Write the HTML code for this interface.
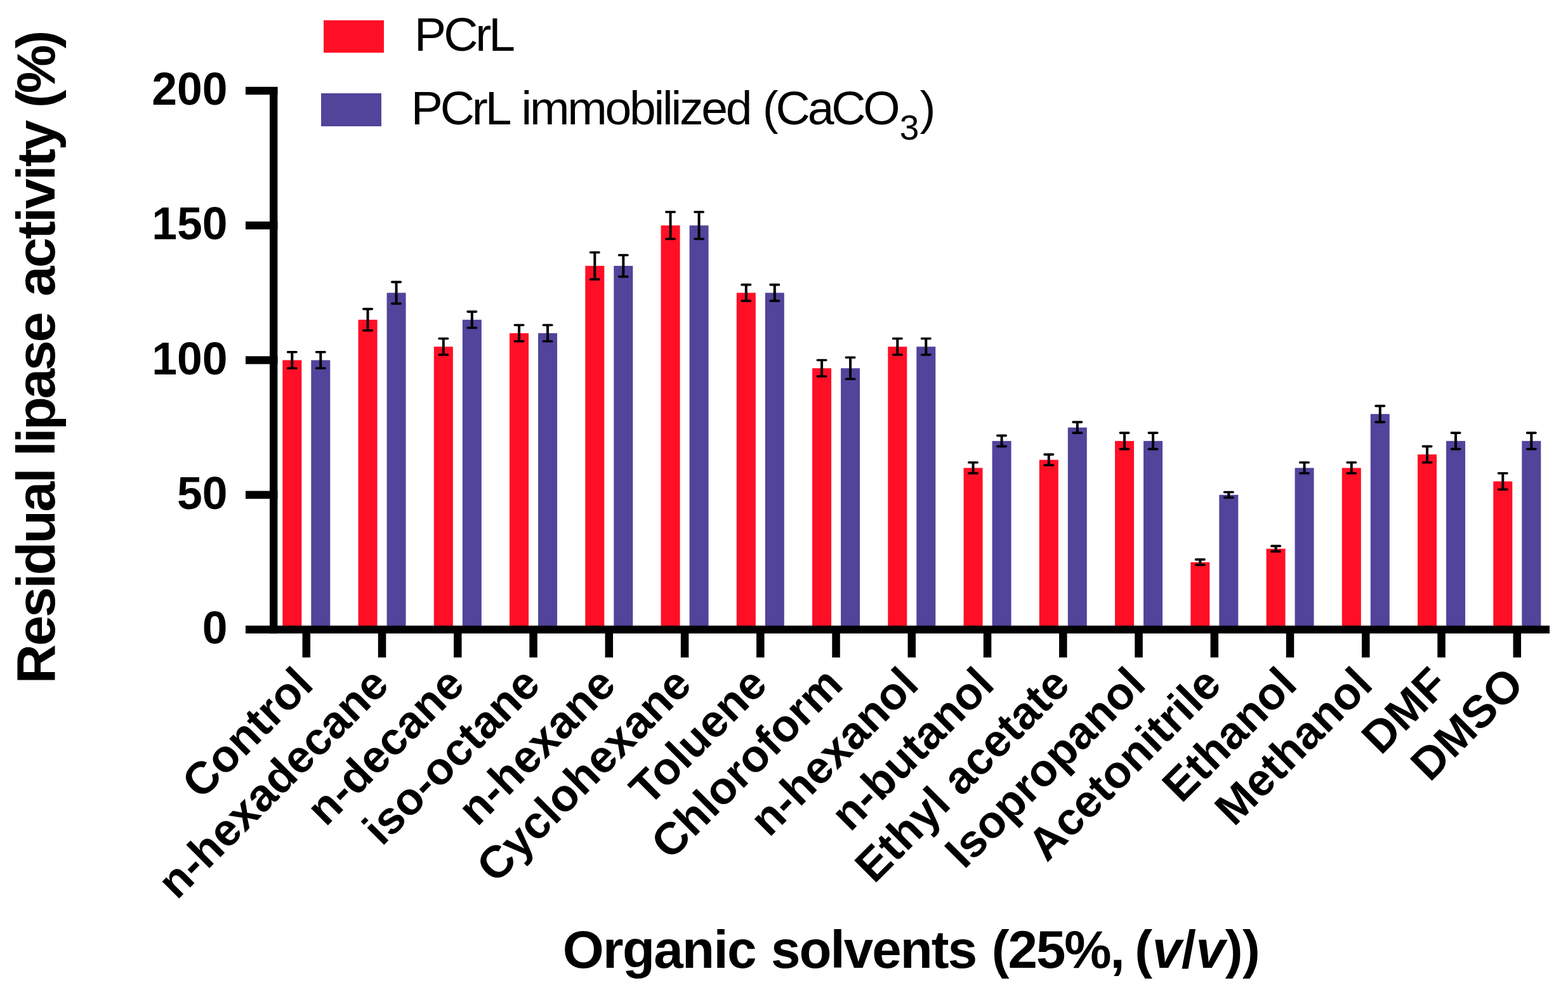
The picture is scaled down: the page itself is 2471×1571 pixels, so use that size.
<!DOCTYPE html>
<html><head><meta charset="utf-8"><style>html,body{margin:0;padding:0;background:#fff;overflow:hidden}svg{display:block}text{font-family:"Liberation Sans",Arial,sans-serif}</style></head><body>
<svg width="2471" height="1571" viewBox="0 0 2471 1571">
<rect width="2471" height="1571" fill="#fff"/>
<rect x="445.30" y="567.50" width="30" height="424.50" fill="#ff0f26"/>
<rect x="490.30" y="567.50" width="30" height="424.50" fill="#52439b"/>
<rect x="564.55" y="503.82" width="30" height="488.18" fill="#ff0f26"/>
<rect x="609.55" y="461.38" width="30" height="530.62" fill="#52439b"/>
<rect x="683.80" y="546.27" width="30" height="445.73" fill="#ff0f26"/>
<rect x="728.80" y="503.82" width="30" height="488.18" fill="#52439b"/>
<rect x="803.05" y="525.05" width="30" height="466.95" fill="#ff0f26"/>
<rect x="848.05" y="525.05" width="30" height="466.95" fill="#52439b"/>
<rect x="922.30" y="418.92" width="30" height="573.08" fill="#ff0f26"/>
<rect x="967.30" y="418.92" width="30" height="573.08" fill="#52439b"/>
<rect x="1041.55" y="355.25" width="30" height="636.75" fill="#ff0f26"/>
<rect x="1086.55" y="355.25" width="30" height="636.75" fill="#52439b"/>
<rect x="1160.80" y="461.38" width="30" height="530.62" fill="#ff0f26"/>
<rect x="1205.80" y="461.38" width="30" height="530.62" fill="#52439b"/>
<rect x="1280.05" y="580.24" width="30" height="411.76" fill="#ff0f26"/>
<rect x="1325.05" y="580.24" width="30" height="411.76" fill="#52439b"/>
<rect x="1399.30" y="546.27" width="30" height="445.73" fill="#ff0f26"/>
<rect x="1444.30" y="546.27" width="30" height="445.73" fill="#52439b"/>
<rect x="1518.55" y="737.30" width="30" height="254.70" fill="#ff0f26"/>
<rect x="1563.55" y="694.85" width="30" height="297.15" fill="#52439b"/>
<rect x="1637.80" y="724.57" width="30" height="267.43" fill="#ff0f26"/>
<rect x="1682.80" y="673.62" width="30" height="318.38" fill="#52439b"/>
<rect x="1757.05" y="694.85" width="30" height="297.15" fill="#ff0f26"/>
<rect x="1802.05" y="694.85" width="30" height="297.15" fill="#52439b"/>
<rect x="1876.30" y="885.88" width="30" height="106.12" fill="#ff0f26"/>
<rect x="1921.30" y="779.75" width="30" height="212.25" fill="#52439b"/>
<rect x="1995.55" y="864.65" width="30" height="127.35" fill="#ff0f26"/>
<rect x="2040.55" y="737.30" width="30" height="254.70" fill="#52439b"/>
<rect x="2114.80" y="737.30" width="30" height="254.70" fill="#ff0f26"/>
<rect x="2159.80" y="652.40" width="30" height="339.60" fill="#52439b"/>
<rect x="2234.05" y="716.08" width="30" height="275.92" fill="#ff0f26"/>
<rect x="2279.05" y="694.85" width="30" height="297.15" fill="#52439b"/>
<rect x="2353.30" y="758.52" width="30" height="233.48" fill="#ff0f26"/>
<rect x="2398.30" y="694.85" width="30" height="297.15" fill="#52439b"/>
<path d="M460.30 554.76V580.24" stroke="#000" stroke-width="4" fill="none"/>
<path d="M453.55 554.76H467.05M453.55 580.24H467.05" stroke="#000" stroke-width="3.6" stroke-linecap="round" fill="none"/>
<path d="M505.30 554.76V580.24" stroke="#000" stroke-width="4" fill="none"/>
<path d="M498.55 554.76H512.05M498.55 580.24H512.05" stroke="#000" stroke-width="3.6" stroke-linecap="round" fill="none"/>
<path d="M579.55 486.84V520.81" stroke="#000" stroke-width="4" fill="none"/>
<path d="M572.80 486.84H586.30M572.80 520.81H586.30" stroke="#000" stroke-width="3.6" stroke-linecap="round" fill="none"/>
<path d="M624.55 444.39V478.36" stroke="#000" stroke-width="4" fill="none"/>
<path d="M617.80 444.39H631.30M617.80 478.36H631.30" stroke="#000" stroke-width="3.6" stroke-linecap="round" fill="none"/>
<path d="M698.80 533.54V559.01" stroke="#000" stroke-width="4" fill="none"/>
<path d="M692.05 533.54H705.55M692.05 559.01H705.55" stroke="#000" stroke-width="3.6" stroke-linecap="round" fill="none"/>
<path d="M743.80 491.09V516.56" stroke="#000" stroke-width="4" fill="none"/>
<path d="M737.05 491.09H750.55M737.05 516.56H750.55" stroke="#000" stroke-width="3.6" stroke-linecap="round" fill="none"/>
<path d="M818.05 512.32V537.78" stroke="#000" stroke-width="4" fill="none"/>
<path d="M811.30 512.32H824.80M811.30 537.78H824.80" stroke="#000" stroke-width="3.6" stroke-linecap="round" fill="none"/>
<path d="M863.05 512.32V537.78" stroke="#000" stroke-width="4" fill="none"/>
<path d="M856.30 512.32H869.80M856.30 537.78H869.80" stroke="#000" stroke-width="3.6" stroke-linecap="round" fill="none"/>
<path d="M937.30 397.70V440.15" stroke="#000" stroke-width="4" fill="none"/>
<path d="M930.55 397.70H944.05M930.55 440.15H944.05" stroke="#000" stroke-width="3.6" stroke-linecap="round" fill="none"/>
<path d="M982.30 401.94V435.90" stroke="#000" stroke-width="4" fill="none"/>
<path d="M975.55 401.94H989.05M975.55 435.90H989.05" stroke="#000" stroke-width="3.6" stroke-linecap="round" fill="none"/>
<path d="M1056.55 334.02V376.48" stroke="#000" stroke-width="4" fill="none"/>
<path d="M1049.80 334.02H1063.30M1049.80 376.48H1063.30" stroke="#000" stroke-width="3.6" stroke-linecap="round" fill="none"/>
<path d="M1101.55 334.02V376.48" stroke="#000" stroke-width="4" fill="none"/>
<path d="M1094.80 334.02H1108.30M1094.80 376.48H1108.30" stroke="#000" stroke-width="3.6" stroke-linecap="round" fill="none"/>
<path d="M1175.80 448.64V474.11" stroke="#000" stroke-width="4" fill="none"/>
<path d="M1169.05 448.64H1182.55M1169.05 474.11H1182.55" stroke="#000" stroke-width="3.6" stroke-linecap="round" fill="none"/>
<path d="M1220.80 448.64V474.11" stroke="#000" stroke-width="4" fill="none"/>
<path d="M1214.05 448.64H1227.55M1214.05 474.11H1227.55" stroke="#000" stroke-width="3.6" stroke-linecap="round" fill="none"/>
<path d="M1295.05 567.50V592.97" stroke="#000" stroke-width="4" fill="none"/>
<path d="M1288.30 567.50H1301.80M1288.30 592.97H1301.80" stroke="#000" stroke-width="3.6" stroke-linecap="round" fill="none"/>
<path d="M1340.05 563.25V597.21" stroke="#000" stroke-width="4" fill="none"/>
<path d="M1333.30 563.25H1346.80M1333.30 597.21H1346.80" stroke="#000" stroke-width="3.6" stroke-linecap="round" fill="none"/>
<path d="M1414.30 533.54V559.01" stroke="#000" stroke-width="4" fill="none"/>
<path d="M1407.55 533.54H1421.05M1407.55 559.01H1421.05" stroke="#000" stroke-width="3.6" stroke-linecap="round" fill="none"/>
<path d="M1459.30 533.54V559.01" stroke="#000" stroke-width="4" fill="none"/>
<path d="M1452.55 533.54H1466.05M1452.55 559.01H1466.05" stroke="#000" stroke-width="3.6" stroke-linecap="round" fill="none"/>
<path d="M1533.55 728.81V745.79" stroke="#000" stroke-width="4" fill="none"/>
<path d="M1526.80 728.81H1540.30M1526.80 745.79H1540.30" stroke="#000" stroke-width="3.6" stroke-linecap="round" fill="none"/>
<path d="M1578.55 686.36V703.34" stroke="#000" stroke-width="4" fill="none"/>
<path d="M1571.80 686.36H1585.30M1571.80 703.34H1585.30" stroke="#000" stroke-width="3.6" stroke-linecap="round" fill="none"/>
<path d="M1652.80 716.08V733.06" stroke="#000" stroke-width="4" fill="none"/>
<path d="M1646.05 716.08H1659.55M1646.05 733.06H1659.55" stroke="#000" stroke-width="3.6" stroke-linecap="round" fill="none"/>
<path d="M1697.80 665.13V682.12" stroke="#000" stroke-width="4" fill="none"/>
<path d="M1691.05 665.13H1704.55M1691.05 682.12H1704.55" stroke="#000" stroke-width="3.6" stroke-linecap="round" fill="none"/>
<path d="M1772.05 682.12V707.59" stroke="#000" stroke-width="4" fill="none"/>
<path d="M1765.30 682.12H1778.80M1765.30 707.59H1778.80" stroke="#000" stroke-width="3.6" stroke-linecap="round" fill="none"/>
<path d="M1817.05 682.12V707.59" stroke="#000" stroke-width="4" fill="none"/>
<path d="M1810.30 682.12H1823.80M1810.30 707.59H1823.80" stroke="#000" stroke-width="3.6" stroke-linecap="round" fill="none"/>
<path d="M1891.30 881.63V890.12" stroke="#000" stroke-width="4" fill="none"/>
<path d="M1884.55 881.63H1898.05M1884.55 890.12H1898.05" stroke="#000" stroke-width="3.6" stroke-linecap="round" fill="none"/>
<path d="M1936.30 775.50V784.00" stroke="#000" stroke-width="4" fill="none"/>
<path d="M1929.55 775.50H1943.05M1929.55 784.00H1943.05" stroke="#000" stroke-width="3.6" stroke-linecap="round" fill="none"/>
<path d="M2010.55 860.40V868.89" stroke="#000" stroke-width="4" fill="none"/>
<path d="M2003.80 860.40H2017.30M2003.80 868.89H2017.30" stroke="#000" stroke-width="3.6" stroke-linecap="round" fill="none"/>
<path d="M2055.55 728.81V745.79" stroke="#000" stroke-width="4" fill="none"/>
<path d="M2048.80 728.81H2062.30M2048.80 745.79H2062.30" stroke="#000" stroke-width="3.6" stroke-linecap="round" fill="none"/>
<path d="M2129.80 728.81V745.79" stroke="#000" stroke-width="4" fill="none"/>
<path d="M2123.05 728.81H2136.55M2123.05 745.79H2136.55" stroke="#000" stroke-width="3.6" stroke-linecap="round" fill="none"/>
<path d="M2174.80 639.66V665.13" stroke="#000" stroke-width="4" fill="none"/>
<path d="M2168.05 639.66H2181.55M2168.05 665.13H2181.55" stroke="#000" stroke-width="3.6" stroke-linecap="round" fill="none"/>
<path d="M2249.05 703.34V728.81" stroke="#000" stroke-width="4" fill="none"/>
<path d="M2242.30 703.34H2255.80M2242.30 728.81H2255.80" stroke="#000" stroke-width="3.6" stroke-linecap="round" fill="none"/>
<path d="M2294.05 682.12V707.59" stroke="#000" stroke-width="4" fill="none"/>
<path d="M2287.30 682.12H2300.80M2287.30 707.59H2300.80" stroke="#000" stroke-width="3.6" stroke-linecap="round" fill="none"/>
<path d="M2368.30 745.79V771.26" stroke="#000" stroke-width="4" fill="none"/>
<path d="M2361.55 745.79H2375.05M2361.55 771.26H2375.05" stroke="#000" stroke-width="3.6" stroke-linecap="round" fill="none"/>
<path d="M2413.30 682.12V707.59" stroke="#000" stroke-width="4" fill="none"/>
<path d="M2406.55 682.12H2420.05M2406.55 707.59H2420.05" stroke="#000" stroke-width="3.6" stroke-linecap="round" fill="none"/>
<rect x="425.00" y="137" width="12.4" height="861.20" fill="#000"/>
<rect x="387" y="985.80" width="2055.00" height="12.4" fill="#000"/>
<rect x="387" y="773.55" width="50.40" height="12.4" fill="#000"/>
<rect x="387" y="561.30" width="50.40" height="12.4" fill="#000"/>
<rect x="387" y="349.05" width="50.40" height="12.4" fill="#000"/>
<rect x="387" y="136.80" width="50.40" height="12.4" fill="#000"/>
<rect x="476.55" y="992.00" width="12.5" height="44.00" fill="#000"/>
<rect x="595.80" y="992.00" width="12.5" height="44.00" fill="#000"/>
<rect x="715.05" y="992.00" width="12.5" height="44.00" fill="#000"/>
<rect x="834.30" y="992.00" width="12.5" height="44.00" fill="#000"/>
<rect x="953.55" y="992.00" width="12.5" height="44.00" fill="#000"/>
<rect x="1072.80" y="992.00" width="12.5" height="44.00" fill="#000"/>
<rect x="1192.05" y="992.00" width="12.5" height="44.00" fill="#000"/>
<rect x="1311.30" y="992.00" width="12.5" height="44.00" fill="#000"/>
<rect x="1430.55" y="992.00" width="12.5" height="44.00" fill="#000"/>
<rect x="1549.80" y="992.00" width="12.5" height="44.00" fill="#000"/>
<rect x="1669.05" y="992.00" width="12.5" height="44.00" fill="#000"/>
<rect x="1788.30" y="992.00" width="12.5" height="44.00" fill="#000"/>
<rect x="1907.55" y="992.00" width="12.5" height="44.00" fill="#000"/>
<rect x="2026.80" y="992.00" width="12.5" height="44.00" fill="#000"/>
<rect x="2146.05" y="992.00" width="12.5" height="44.00" fill="#000"/>
<rect x="2265.30" y="992.00" width="12.5" height="44.00" fill="#000"/>
<rect x="2384.55" y="992.00" width="12.5" height="44.00" fill="#000"/>
<text x="358.5" y="1014.00" font-size="71.5" font-weight="bold" text-anchor="end">0</text>
<text x="358.5" y="801.75" font-size="71.5" font-weight="bold" text-anchor="end">50</text>
<text x="358.5" y="589.50" font-size="71.5" font-weight="bold" text-anchor="end">100</text>
<text x="358.5" y="377.25" font-size="71.5" font-weight="bold" text-anchor="end">150</text>
<text x="358.5" y="165.00" font-size="71.5" font-weight="bold" text-anchor="end">200</text>
<text transform="translate(496.80 1082.00) rotate(-45)" font-size="71.5" font-weight="bold" text-anchor="end">Control</text>
<text transform="translate(616.05 1082.00) rotate(-45)" font-size="71.5" font-weight="bold" text-anchor="end">n-hexadecane</text>
<text transform="translate(735.30 1082.00) rotate(-45)" font-size="71.5" font-weight="bold" text-anchor="end">n-decane</text>
<text transform="translate(854.55 1082.00) rotate(-45)" font-size="71.5" font-weight="bold" text-anchor="end">iso-octane</text>
<text transform="translate(973.80 1082.00) rotate(-45)" font-size="71.5" font-weight="bold" text-anchor="end">n-hexane</text>
<text transform="translate(1093.05 1082.00) rotate(-45)" font-size="71.5" font-weight="bold" text-anchor="end">Cyclohexane</text>
<text transform="translate(1212.30 1082.00) rotate(-45)" font-size="71.5" font-weight="bold" text-anchor="end">Toluene</text>
<text transform="translate(1331.55 1082.00) rotate(-45)" font-size="71.5" font-weight="bold" text-anchor="end">Chloroform</text>
<text transform="translate(1450.80 1082.00) rotate(-45)" font-size="71.5" font-weight="bold" text-anchor="end">n-hexanol</text>
<text transform="translate(1570.05 1082.00) rotate(-45)" font-size="71.5" font-weight="bold" text-anchor="end">n-butanol</text>
<text transform="translate(1689.30 1082.00) rotate(-45)" font-size="71.5" font-weight="bold" text-anchor="end">Ethyl acetate</text>
<text transform="translate(1808.55 1082.00) rotate(-45)" font-size="71.5" font-weight="bold" text-anchor="end">Isopropanol</text>
<text transform="translate(1927.80 1082.00) rotate(-45)" font-size="71.5" font-weight="bold" text-anchor="end">Acetonitrile</text>
<text transform="translate(2047.05 1082.00) rotate(-45)" font-size="71.5" font-weight="bold" text-anchor="end">Ethanol</text>
<text transform="translate(2166.30 1082.00) rotate(-45)" font-size="71.5" font-weight="bold" text-anchor="end">Methanol</text>
<text transform="translate(2285.55 1082.00) rotate(-45)" font-size="71.5" font-weight="bold" text-anchor="end">DMF</text>
<text transform="translate(2404.80 1082.00) rotate(-45)" font-size="71.5" font-weight="bold" text-anchor="end">DMSO</text>
<text transform="translate(86.4 1075) rotate(-90)" font-size="86" font-weight="bold"><tspan x="-2.30" letter-spacing="-2.66">Residual</tspan> <tspan x="356.00" letter-spacing="-3.26">lipase</tspan> <tspan x="607.90" letter-spacing="-2.61">activity</tspan> <tspan x="905.00" letter-spacing="-5.70">(%)</tspan></text>
<text y="1525" font-size="83.5" font-weight="bold"><tspan x="886.80" letter-spacing="-1.65">Organic</tspan> <tspan x="1215.10" letter-spacing="-1.96">solvents</tspan> <tspan x="1562.80" letter-spacing="-2.08">(25%,</tspan> <tspan x="1788.33" letter-spacing="-0.4">(<tspan font-style="italic">v</tspan>/<tspan font-style="italic">v</tspan>))</tspan></text>
<rect x="510" y="32" width="95" height="51" fill="#ff0f26"/>
<rect x="506" y="147" width="95" height="52" fill="#52439b"/>
<text x="653.10" y="80.4" font-size="75" letter-spacing="-3.97">PCrL</text>
<text y="195.7" font-size="75"><tspan x="647.80" letter-spacing="-4.07">PCrL</tspan> <tspan x="821.60" letter-spacing="-3.21">immobilized</tspan> <tspan x="1201.70" letter-spacing="-4.10">(CaCO</tspan><tspan x="1417.70" y="219.5" font-size="55">3</tspan><tspan x="1449.50" y="195.7">)</tspan></text>
</svg></body></html>
